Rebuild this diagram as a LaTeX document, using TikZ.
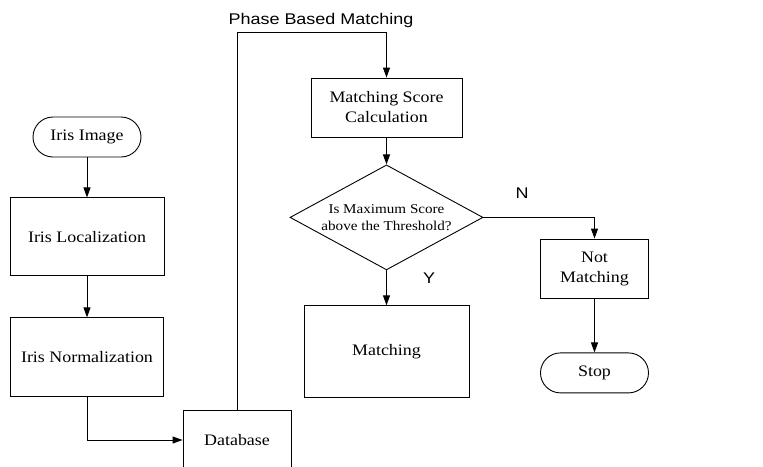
\documentclass[tikz,border=0pt]{standalone}
\usepackage{fontspec}
\setmainfont{Liberation Serif}[FakeStretch=1.12]
\setsansfont{Liberation Sans}[FakeStretch=1.16]
\usetikzlibrary{arrows.meta,positioning,shapes.geometric}

\begin{document}
\begin{tikzpicture}[
    x=1pt, y=-1pt,
    box/.style={draw, line width=0.9pt, align=center, inner sep=2pt, font=\fontsize{16}{20}\selectfont},
    term/.style={box, rounded corners=20pt, minimum width=108pt, minimum height=40pt},
    decision/.style={draw, line width=0.9pt, diamond, aspect=1.84, minimum width=193pt, minimum height=105pt, inner sep=0pt, align=center, font=\fontsize{13.5}{17}\selectfont},
    lbl/.style={font=\sffamily\fontsize{15.5}{18}\selectfont},
    link/.style={-{Triangle[length=10pt,width=7pt]}, line width=0.9pt}
]
\useasboundingbox (0,0) rectangle (763,466);
\clip (0,0) rectangle (763,466);
% left column
\node[term] (img) at (87,137) {Iris Image};
\node[box, minimum width=154pt, minimum height=78pt, below=40pt of img] (loc) {Iris Localization};
\node[box, minimum width=153pt, minimum height=79pt, below=41pt of loc] (norm) {Iris Normalization};
\node[box, minimum width=108pt, minimum height=60pt] (db) at (237,440) {Database};
% matching column
\node[box, minimum width=151pt, minimum height=59pt] (msc) at (386.5,107.5) {Matching Score\\Calculation};
\node[decision, below=27pt of msc] (dec) {Is Maximum Score\\above the Threshold?};
\node[box, minimum width=165pt, minimum height=92pt, below=35pt of dec] (match) {Matching};
\node[box, minimum width=108pt, minimum height=59pt] (notm) at (594.5,268.5) {Not\\Matching};
\node[term, below=54pt of notm] (stop) {Stop};
% labels
\node[lbl] (pbm) at (321,20) {Phase Based Matching};
\node[lbl] (yes) at (429,278) {Y};
\node[lbl] (no) at (522,193) {N};
\coordinate (turn) at (db.north |- 0,32);
\draw[link] (img) -- (loc);
\draw[link] (loc) -- (norm);
\draw[link] (norm) |- (db);
\draw[link] (db.north) -- (turn) -| (msc.north);
\draw[link] (msc) -- (dec);
\draw[link] (dec) -- (match);
\draw[link] (dec.east) -| (notm.north);
\draw[link] (notm) -- (stop);
\end{tikzpicture}
\end{document}
